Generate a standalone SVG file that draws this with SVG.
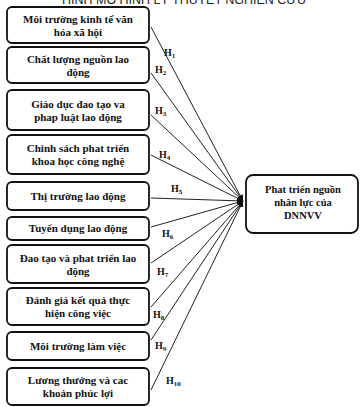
<svg xmlns="http://www.w3.org/2000/svg" width="361" height="407" viewBox="0 0 361 407">
<style>
.box{fill:#fff;stroke:#111;stroke-width:1.8}
.t{font-family:"Liberation Serif","DejaVu Serif",serif;font-size:11px;font-weight:bold;fill:#111;text-anchor:middle}
.r{font-size:10.5px}
.h{font-family:"Liberation Serif","DejaVu Serif",serif;font-size:10px;font-weight:bold;fill:#111}
.h tspan{font-size:7px}
.c{stroke:#222;stroke-width:1;fill:none;marker-end:url(#ah)}
.title{font-family:"Liberation Sans",Arial,sans-serif;font-size:12.5px;fill:#222;text-anchor:middle}
</style>
<defs>
<marker id="ah" viewBox="0 0 10 10" refX="10" refY="5" markerWidth="6" markerHeight="6" orient="auto" markerUnits="userSpaceOnUse">
<path d="M0,0 L10,5 L0,10 z" fill="#111"/>
</marker>
</defs>
<rect width="361" height="407" fill="#fff"/>
<text class="title" x="184" y="3.5" textLength="244" lengthAdjust="spacingAndGlyphs">HÌNH MÔ HÌNH LÝ THUYẾT NGHIÊN CỨU</text>
<g id="connectors">
<line class="c" x1="151" y1="27" x2="243" y2="201"/>
<line class="c" x1="151" y1="73" x2="243" y2="201"/>
<line class="c" x1="151" y1="115" x2="243" y2="201"/>
<line class="c" x1="151" y1="155" x2="243" y2="201"/>
<line class="c" x1="151" y1="198" x2="243" y2="201"/>
<line class="c" x1="151" y1="227" x2="243" y2="201"/>
<line class="c" x1="151" y1="263" x2="243" y2="201"/>
<line class="c" x1="151" y1="307" x2="243" y2="201"/>
<line class="c" x1="151" y1="340" x2="243" y2="201"/>
<line class="c" x1="151" y1="390" x2="243" y2="201"/>
<text class="h" x="164" y="56">H<tspan dy="2">1</tspan></text>
<text class="h" x="155" y="73">H<tspan dy="2">2</tspan></text>
<text class="h" x="155" y="114">H<tspan dy="2">3</tspan></text>
<text class="h" x="159" y="158">H<tspan dy="2">4</tspan></text>
<text class="h" x="171" y="192">H<tspan dy="2">5</tspan></text>
<text class="h" x="162" y="237">H<tspan dy="2">6</tspan></text>
<text class="h" x="157" y="275">H<tspan dy="2">7</tspan></text>
<text class="h" x="153" y="318">H<tspan dy="2">8</tspan></text>
<text class="h" x="155" y="349">H<tspan dy="2">9</tspan></text>
<text class="h" x="166" y="384">H<tspan dy="2">10</tspan></text>
</g>
<g id="n1"><rect class="box" x="7" y="7" width="142" height="36" rx="5"/><text class="t" x="78" y="22.5">Môi trường kinh tế văn</text><text class="t" x="78" y="35.5">hóa xã hội</text></g>
<g id="n2"><rect class="box" x="7" y="47" width="142" height="36" rx="5"/><text class="t" x="78" y="62.5">Chất lượng nguồn lao</text><text class="t" x="78" y="75.5">động</text></g>
<g id="n3"><rect class="box" x="7" y="90" width="142" height="40" rx="5"/><text class="t" x="78" y="107.5">Giáo dục đao tạo va</text><text class="t" x="78" y="120.5">phap luật lao động</text></g>
<g id="n4"><rect class="box" x="7" y="135" width="142" height="39" rx="5"/><text class="t" x="78" y="152">Chinh sách phat triển</text><text class="t" x="78" y="165">khoa học công nghệ</text></g>
<g id="n5"><rect class="box" x="7" y="182" width="142" height="28" rx="5"/><text class="t" x="78" y="199.5">Thị trường lao động</text></g>
<g id="n6"><rect class="box" x="7" y="217" width="142" height="23" rx="5"/><text class="t" x="78" y="232">Tuyển dụng lao động</text></g>
<g id="n7"><rect class="box" x="7" y="245" width="142" height="38" rx="5"/><text class="t" x="78" y="261.5">Đao tạo và phat triển lao</text><text class="t" x="78" y="274.5">động</text></g>
<g id="n8"><rect class="box" x="7" y="288" width="142" height="37" rx="5"/><text class="t" x="78" y="304">Đánh giá kết quả thực</text><text class="t" x="78" y="317">hiện công việc</text></g>
<g id="n9"><rect class="box" x="7" y="332" width="142" height="28" rx="5"/><text class="t" x="78" y="349.5">Môi trường làm việc</text></g>
<g id="n10"><rect class="box" x="7" y="368" width="142" height="37" rx="5"/><text class="t" x="78" y="384">Lương thưởng và cac</text><text class="t" x="78" y="397">khoản phúc lợi</text></g>
<g id="target"><rect class="box" x="246" y="175" width="112" height="58" rx="7"/><text class="t r" x="303" y="193">Phat triển nguồn</text><text class="t r" x="303" y="206">nhân lực của</text><text class="t r" x="303" y="219">DNNVV</text></g>
</svg>
